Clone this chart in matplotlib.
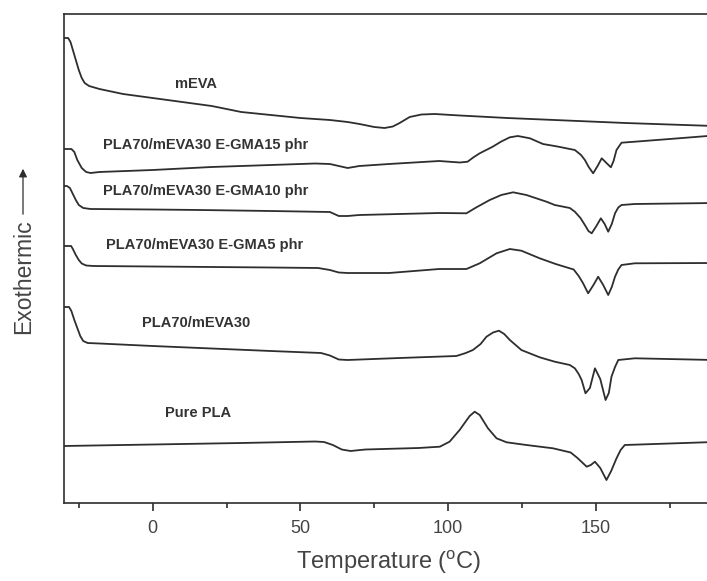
import numpy as np
import matplotlib
matplotlib.use('Agg')
import matplotlib.pyplot as plt

# --------------- plot setup --------------------------
params = {'font.family': ['Liberation Sans', 'DejaVu Sans'],
          'mathtext.fontset': 'custom',
          'mathtext.rm': 'Liberation Sans',
          'axes.linewidth': 1.2,
          'xtick.major.width': 1.2,
          'xtick.minor.width': 1.2,
          'lines.solid_joinstyle': 'round'}
plt.rcParams.update(params)

# DSC traces (T in degC, heat flow in arbitrary units, stacked)
T_meva = [-30, -28.6, -27.8, -27, -26, -25, -24, -23, -21.5, -18, -10, 0, 10, 20, 30,
          40, 50, 60, 66, 70, 75, 78.5, 81.3, 83.6, 87, 91, 95.5, 104, 120, 140, 160, 190]
y_meva = [465, 465, 461, 453, 443, 433, 425, 420, 417, 414, 409, 405, 401, 397, 391,
          388, 385, 383, 381, 379, 376, 375, 376.5, 380, 386, 388.5, 389, 387.5, 385, 382.5, 380, 377]

T_gma15 = [-30, -27.5, -26.5, -25.5, -24, -22.5, -21, -18, 0, 20, 40, 55, 60, 63, 66, 70,
           80, 97, 104, 106.6, 108.5, 110.7, 115.1, 118, 120.9, 123.6, 127.7, 132.1, 137,
           142.9, 145, 146.3, 147.6, 149.1, 150.6, 152, 153.6, 155.1, 156, 157, 158.7,
           163.2, 175, 190]
y_gma15 = [354, 354, 351, 343, 335, 331, 330, 331, 333, 336, 338, 339.5, 339, 337, 335, 337,
           339, 342, 340.5, 341.3, 345.5, 349.7, 356.3, 361.5, 365.7, 367, 364.7, 359, 356.5,
           353, 348, 343, 336, 329.7, 337, 344.7, 340, 335.7, 342, 353, 360.3,
           361.3, 364, 367.5]

T_gma10 = [-30, -29, -28, -27, -26, -25, -23.5, -21, 0, 16, 40, 60, 63, 66, 70, 97, 106.2,
           109.6, 114.1, 118, 122, 126.5, 133.3, 136.1, 141.2, 142.9, 144.8, 146.3, 147.5,
           148.6, 150.2, 151.7, 153, 154.2, 155.4, 156.5, 157.6, 158.7, 163.2, 190]
y_gma10 = [317, 317, 315, 309, 303, 298, 295, 294, 293.5, 293, 292, 291, 287, 287, 288, 290, 289.7,
           295.7, 303, 308, 310.7, 308, 301.3, 298, 295, 291.3, 285, 278, 272,
           269.7, 277, 284.7, 279, 271.3, 279, 289.7, 295.5, 298, 299, 300]

T_gma5 = [-30, -27.6, -27, -26, -25, -24, -22.5, -20, 0, 20, 40, 56, 60, 63, 66, 80, 97,
          106.2, 110.7, 116.4, 120.9, 124.8, 131, 136.4, 142.5, 144.2, 145.7, 147.4, 149.2,
          150.8, 152.5, 154.2, 155.4, 156.5, 157.6, 158.7, 163.2, 190]
y_gma5 = [257, 257, 254, 248, 243, 239.5, 237.5, 237, 236.5, 236, 235.5, 235, 233, 230.5, 230, 230, 234,
          234, 239.7, 249.7, 254, 252.3, 244.7, 239, 233.5, 227, 219.7, 209.7, 218,
          226.3, 218, 208, 216, 226.3, 233.5, 238, 239.7, 240]

T_blend = [-30, -28.3, -27.5, -26.5, -25.5, -24.5, -23.5, -22, -18, 0, 20, 40, 57, 60, 63,
           66, 83.6, 102.8, 106, 108.4, 111, 113, 115.2, 117.2, 119, 120.9, 124.8, 131,
           136.1, 141.2, 142.9, 144.2, 145.2, 146.5, 148, 149.7, 151.5, 153.3, 154.4, 155.3,
           156.5, 157.6, 163.2, 190]
y_blend = [196, 196, 192, 183, 175, 167, 162, 160, 159.5, 157, 154.5, 152, 150, 147.5, 143.5,
           143, 145, 147, 150, 153, 159, 166.3, 170.5, 172.3, 169, 163, 153, 145.7,
           141.3, 138, 134.7, 129, 123, 109.7, 115, 134.7, 124, 103, 110, 126.3,
           136, 143, 144.7, 143]

T_pla = [-30, 0, 30, 55, 58, 61, 64, 67, 72, 90, 97.2, 100.5, 103.9, 107.3, 109, 110.7,
         113.5, 116.4, 119.8, 126.5, 135.5, 141.5, 143.8, 145.7, 146.9, 148.3, 149.7, 151.5,
         153.6, 155.2, 157, 158.4, 159.8, 170, 190]
y_pla = [57, 58.5, 60, 61.5, 61, 58, 53.5, 52, 53.5, 55, 56.3, 61.3, 73, 87, 91.3, 88,
         74.7, 64.7, 60.7, 58, 54.7, 50.5, 45, 39.7, 36.3, 38, 41.3, 35,
         23, 32, 44.7, 53, 58, 59, 61]

curves = [(T_meva, y_meva), (T_gma15, y_gma15), (T_gma10, y_gma10),
          (T_gma5, y_gma5), (T_blend, y_blend), (T_pla, y_pla)]

labels = ['mEVA', 'PLA70/mEVA30 E-GMA15 phr', 'PLA70/mEVA30 E-GMA10 phr',
          'PLA70/mEVA30 E-GMA5 phr', 'PLA70/mEVA30', 'Pure PLA']
label_x = [7.4, -16.7, -16.7, -15.7, -3.5, 4.3]
label_y = [419, 358, 312, 258, 180, 90]

major_ticks = [0, 50, 100, 150]
minor_ticks = [-25, 25, 75, 125, 175]

line_col = '#2e2e2e'
text_col = '#333333'

fig = plt.figure(figsize=(7.07, 5.81), dpi=100)
# right edge of the axes falls just outside the picture, as in the scan
ax = fig.add_axes([64/707, 78/581, 650/707, 489/581])

for T, y in curves:
    ax.plot(T, y, color=line_col, lw=1.3)

for lab, lx, ly in zip(labels, label_x, label_y):
    ax.text(lx, ly, lab, ha='left', va='center', fontsize=10.5,
            fontweight='bold', color=text_col)

ax.set_xlim(-30, 190)
ax.set_ylim(0, 489)

ax.set_xticks(major_ticks)
ax.set_xticks(minor_ticks, minor=True)
ax.set_yticks([])
ax.tick_params(axis='x', which='major', direction='out', length=6, pad=6,
               labelsize=13, colors=line_col, labelcolor='#444444')
ax.tick_params(axis='x', which='minor', direction='out', length=3.5, colors=line_col)
for s in ax.spines.values():
    s.set_color(line_col)
ax.spines['right'].set_visible(False)

ax.set_xlabel(r'Temperature ($^{\mathrm{o}}$C)', fontsize=17, color='#444444', labelpad=8)

# y label with an arrow pointing up
fig.text(24/707, 1 - 277/581, 'Exothermic', rotation=90, ha='center', va='center',
         fontsize=16.5, color='#444444')
fig.patches.append(matplotlib.patches.FancyArrowPatch(
    (23/707, 1 - 217/581), (23/707, 1 - 166/581), transform=fig.transFigure,
    arrowstyle='-|>', mutation_scale=12, lw=0.9, color=line_col))

fig.savefig('out.png', dpi=100)
